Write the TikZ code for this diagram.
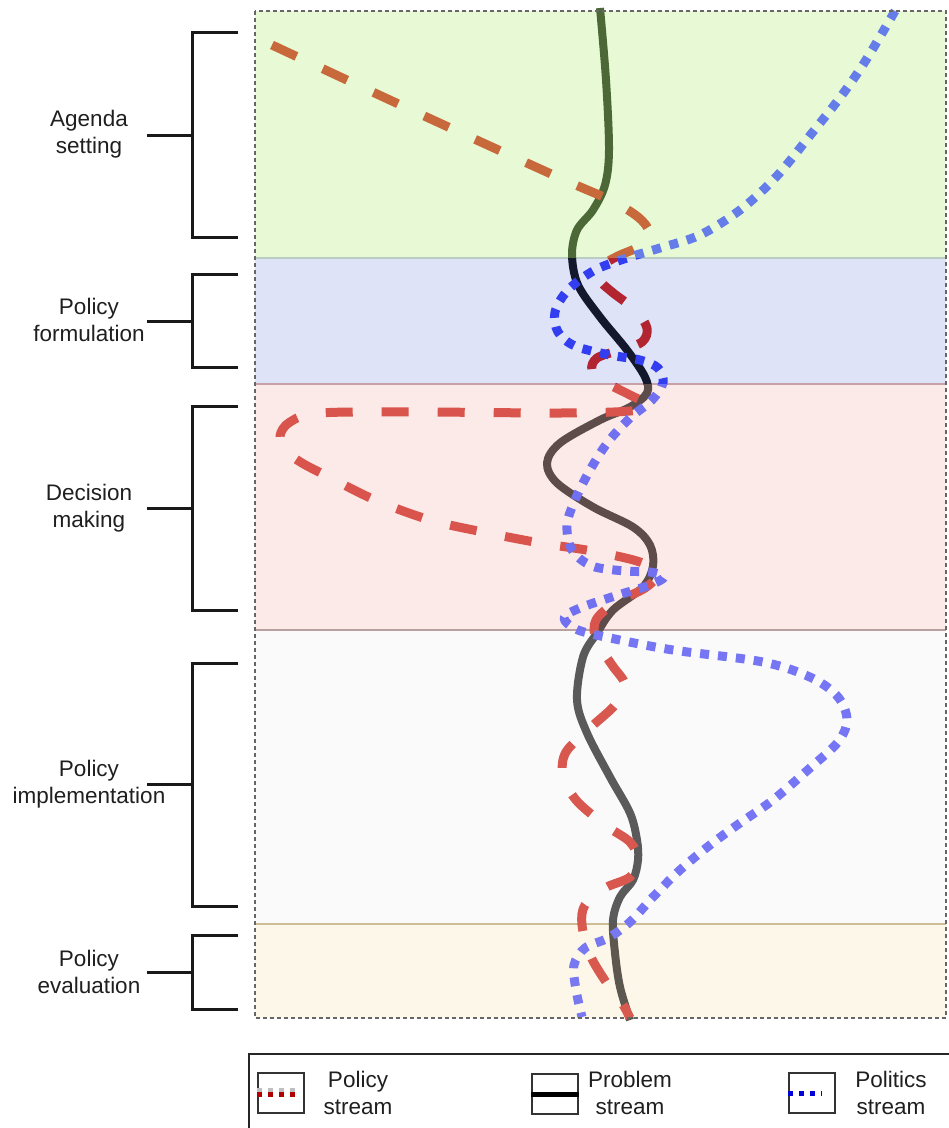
\documentclass[tikz,border=0pt]{standalone}
\usepackage{fontspec}
\setmainfont{Liberation Sans}
\definecolor{bandG}{RGB}{232,249,214}
\definecolor{bandB}{RGB}{222,227,247}
\definecolor{bandP}{RGB}{251,234,231}
\definecolor{bandW}{RGB}{250,250,251}
\definecolor{bandC}{RGB}{253,247,234}
\definecolor{edgeGB}{RGB}{185,205,195}
\definecolor{edgeBP}{RGB}{200,160,170}
\definecolor{edgePW}{RGB}{185,160,160}
\definecolor{edgeWC}{RGB}{205,190,150}
\definecolor{prG}{RGB}{77,104,55}
\definecolor{prB}{RGB}{20,24,45}
\definecolor{prP}{RGB}{94,76,74}
\definecolor{prW}{RGB}{90,90,90}
\definecolor{prC}{RGB}{92,88,80}
\definecolor{poG}{RGB}{200,105,60}
\definecolor{poB}{RGB}{178,36,48}
\definecolor{poP}{RGB}{216,84,76}
\definecolor{poW}{RGB}{216,88,80}
\definecolor{poC}{RGB}{216,90,78}
\definecolor{plG}{RGB}{100,125,232}
\definecolor{plB}{RGB}{50,62,240}
\definecolor{plP}{RGB}{112,112,240}
\definecolor{plW}{RGB}{118,118,245}
\definecolor{plC}{RGB}{120,120,240}
\begin{document}
\begin{tikzpicture}[x=1pt,y=-1pt,
  problemline/.style={line width=8pt, line join=round},
  policyline/.style={line width=9pt, dash pattern=on 27pt off 29pt, line join=round},
  politicsline/.style={line width=9pt, dash pattern=on 9pt off 9pt, line join=round},
  bracket/.style={line width=3pt, black!90, line join=miter},
  lbl/.style={font=\fontsize{22.5}{27}\selectfont, align=center, text=black!88, inner sep=0pt},
  swatch/.style={draw=black!80, line width=1.3pt, minimum width=46pt, minimum height=40pt, inner sep=0pt}]
\path[use as bounding box] (0,0) rectangle (949,1128);
% bands
\fill[bandG] (255,11) rectangle (946,258);
\fill[bandB] (255,258) rectangle (946,384);
\fill[bandP] (255,384) rectangle (946,630);
\fill[bandW] (255,630) rectangle (946,924);
\fill[bandC] (255,924) rectangle (946,1018);
\draw[edgeGB, line width=1.2pt] (255,258) -- (946,258);
\draw[edgeBP, line width=1.2pt] (255,384) -- (946,384);
\draw[edgePW, line width=1.2pt] (255,630) -- (946,630);
\draw[edgeWC, line width=1.2pt] (255,924) -- (946,924);
% paths
\def\problempath{plot[smooth, tension=0.55] coordinates {(600,8) (606,80) (609,150) (605,185) (593,210) (577,230) (572,255) (578,285) (600,317) (627,350) (645,377) (647,393) (630,407) (600,420) (560,443) (547,463) (557,483) (593,507) (633,527) (650,545) (653,566) (643,587) (613,610) (597,633) (583,657) (577,700) (587,733) (610,777) (630,813) (637,840) (638,860) (633,880) (620,897) (613,920) (615,953) (620,987) (630,1020)}}
\def\policypath{plot[smooth, tension=0.55] coordinates {(272,45) (420,114) (560,178) (610,200) (638,217) (649,232) (640,246) (618,256) (602,266) (600,280) (612,292) (635,310) (647,328) (642,342) (620,350) (597,358) (592,370) (605,382) (630,395) (648,405) (630,411) (560,413) (420,412) (320,413) (290,422) (280,436) (286,451) (302,463) (327,476) (375,500) (430,520) (483,532) (540,543) (592,551) (640,562) (657,574) (645,588) (615,603) (596,620) (596,640) (612,665) (625,685) (615,705) (590,728) (566,752) (563,775) (576,800) (605,825) (630,842) (638,860) (630,877) (605,888) (585,905) (582,925) (590,955) (608,985) (622,1003) (630,1018)}}
\def\politicspath{plot[smooth, tension=0.55] coordinates {(895,11) (866,60) (842,95) (812,133) (776,177) (740,210) (700,235) (660,248) (630,257) (595,270) (568,290) (555,312) (558,332) (575,346) (610,355) (640,360) (658,368) (663,383) (652,400) (630,418) (608,442) (590,470) (575,500) (567,525) (572,550) (592,566) (625,571) (650,572) (664,577) (650,585) (615,596) (580,608) (564,618) (578,630) (615,639) (673,650) (763,662) (812,678) (838,697) (847,720) (838,742) (810,768) (773,800) (740,823) (710,845) (680,870) (653,897) (630,922) (608,938) (585,948) (574,965) (576,990) (582,1017)}}
\foreach \ya/\yb/\cpr/\cpo/\cpl in {4/258/prG/poG/plG, 258/384/prB/poB/plB, 384/630/prP/poP/plP, 630/924/prW/poW/plW, 924/1025/prC/poC/plC}{
  \begin{scope}
    \clip (250,\ya) rectangle (950,\yb);
    \draw[problemline, \cpr] \problempath;
    \draw[policyline, \cpo] \policypath;
    \draw[politicsline, \cpl] \politicspath;
  \end{scope}
}
% frame
\draw[black!60, line width=1.2pt, dash pattern=on 4pt off 3pt] (255,11) rectangle (946,1018);
% brackets
\foreach \t/\b/\m in {32/237/135, 274/367/321, 406/610/508, 663/906/784, 935/1009/972}{
  \draw[bracket] (238,\t) -- (192,\t) -- (192,\b) -- (238,\b);
  \draw[bracket] (147,\m) -- (192,\m);
}
\node[lbl] (agenda) at (89,134) {Agenda\\setting};
\node[lbl] (formul) at (89,320) {Policy\\formulation};
\node[lbl] (decis) at (89,508) {Decision\\making};
\node[lbl] (implem) at (89,784) {Policy\\implementation};
\node[lbl] (evalu) at (89,972) {Policy\\evaluation};
% legend
\draw[black!85, line width=1.5pt] (249,1054) rectangle (960,1140);
\node[swatch] (swpol) at (281,1093) {};
\draw[black!25, line width=5pt, dash pattern=on 5pt off 6pt] ([yshift=3pt]swpol.west) -- ([xshift=-4pt,yshift=3pt]swpol.east);
\draw[red!70!black, line width=5pt, dash pattern=on 5pt off 6pt] ([yshift=-1pt]swpol.west) -- ([xshift=-4pt,yshift=-1pt]swpol.east);
\node[lbl] (txpol) at (358,1093) {Policy\\stream};
\node[swatch] (swpro) at (555,1094) {};
\draw[black, line width=5pt] (swpro.west) -- (swpro.east);
\node[lbl] (txpro) at (630,1093) {Problem\\stream};
\node[swatch] (swpolit) at (812,1093) {};
\draw[blue!85!black, line width=5pt, dash pattern=on 5pt off 6pt] (swpolit.west) -- ([xshift=-14pt]swpolit.east);
\node[lbl] (txpolit) at (891,1093) {Politics\\stream};
\end{tikzpicture}
\end{document}
